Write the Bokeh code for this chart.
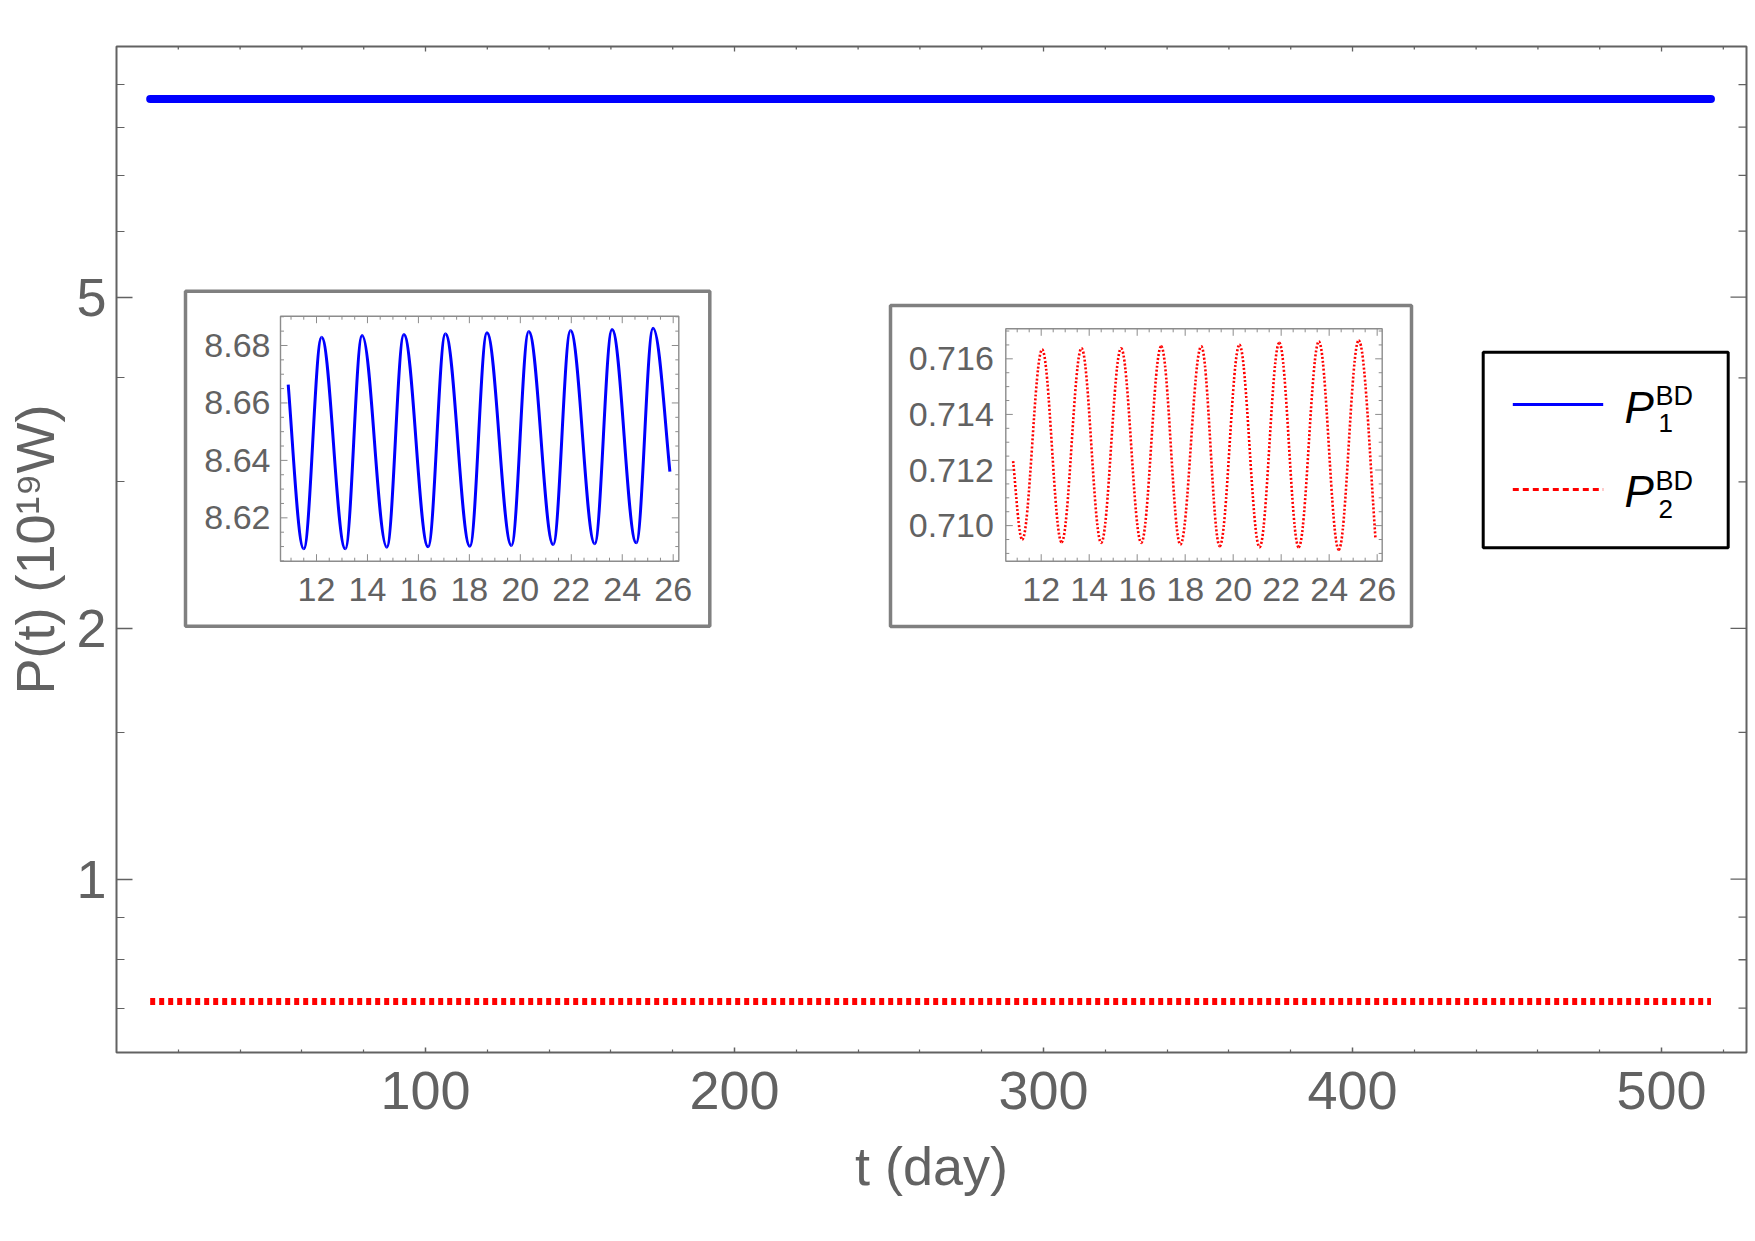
import math
from bokeh.plotting import figure
from bokeh.models import Range1d, LinearScale, FixedTicker, PrintfTickFormatter
from bokeh.core.properties import value
from bokeh.embed import file_html
from bokeh.resources import INLINE

# ---------------- data ----------------
# main panel: the two powers look like flat bands (fast ripple is unresolved)
t_main = [10.9, 516.0]
p1_main = [8.647, 8.647]
p2_main = [0.7129, 0.7129]

x_ticks = [100, 200, 300, 400, 500]
x_minor = [20, 40, 60, 80, 120, 140, 160, 180, 220, 240, 260, 280, 320, 340, 360, 380,
           420, 440, 460, 480, 520]
y_ticks = [1, 2, 5]
y_minor = [0.7, 0.8, 0.9, 1.5, 3, 4, 6, 7, 8, 9]

# inset 1 (P1): start, alternating troughs / peaks, end
t1_ext = [10.89, 11.50, 12.20, 13.13, 13.79, 14.76, 15.43, 16.38, 17.06, 18.02,
          18.69, 19.65, 20.33, 21.29, 21.97, 22.92, 23.60, 24.55, 25.21, 25.87]
p1_ext = [8.6664, 8.6092, 8.6829, 8.6092, 8.6835, 8.6098, 8.6838, 8.6099, 8.6841, 8.6101,
          8.6844, 8.6104, 8.6849, 8.6107, 8.6852, 8.6110, 8.6856, 8.6113, 8.6860, 8.6361]
in1_xticks = [12, 14, 16, 18, 20, 22, 24, 26]
in1_yticks = [8.62, 8.64, 8.66, 8.68]
in1_ylabels = ["8.62", "8.64", "8.66", "8.68"]

# inset 2 (P2)
t2_ext = [10.83, 11.21, 12.04, 12.85, 13.68, 14.50, 15.33, 16.17, 17.00, 17.80,
          18.67, 19.44, 20.26, 21.10, 21.92, 22.73, 23.57, 24.40, 25.23, 25.93]
p2_ext = [0.71232, 0.70950, 0.71633, 0.70940, 0.71638, 0.70938, 0.71638, 0.70938, 0.71645, 0.70932,
          0.71645, 0.70926, 0.71650, 0.70922, 0.71658, 0.70922, 0.71662, 0.70913, 0.71666, 0.70953]
in2_xticks = [12, 14, 16, 18, 20, 22, 24, 26]
in2_yticks = [0.710, 0.712, 0.714, 0.716]
in2_ylabels = ["0.710", "0.712", "0.714", "0.716"]

# ---------------- layout / style ----------------
FONT = "Liberation Sans"
GREY = "#626262"
W, H = 1755, 1241
FL, FR, FT, FB = 116, 1746, 46, 1052
XMIN, XMAX = 0, 527.5
YMIN, YMAX = 0.619, 10.0

p = figure(width=W, height=H, x_range=Range1d(XMIN, XMAX), y_range=Range1d(YMIN, YMAX),
           y_axis_type="log", output_backend="svg", toolbar_location=None,
           min_border_left=FL, min_border_right=W - FR, min_border_top=FT, min_border_bottom=H - FB,
           background_fill_color="white", border_fill_color="white",
           outline_line_color=GREY, outline_line_width=2)
p.grid.visible = False

bx = p.below[0]
ly = p.left[0]
bx.ticker = FixedTicker(ticks=x_ticks, minor_ticks=x_minor)
ly.ticker = FixedTicker(ticks=y_ticks, minor_ticks=y_minor)
ly.formatter = PrintfTickFormatter(format="%d")
bx.axis_label = "t (day)"
ly.axis_label = "P(t) (10\u00b9\u2079W)"

XT_MAJ, XT_MIN = 5, 3
YT_MAJ, YT_MIN = 16, 8


def style_axis(ax, tin, tmin):
    ax.axis_line_color = None
    ax.major_tick_line_color = GREY
    ax.minor_tick_line_color = GREY
    ax.major_tick_line_width = 1.5
    ax.minor_tick_line_width = 1.2
    ax.major_tick_in = tin
    ax.major_tick_out = 0
    ax.minor_tick_in = tmin
    ax.minor_tick_out = 0
    ax.major_label_text_font = FONT
    ax.major_label_text_font_size = "54px"
    ax.major_label_text_color = GREY
    ax.axis_label_text_font = FONT
    ax.axis_label_text_font_size = "54px"
    ax.axis_label_text_font_style = "normal"
    ax.axis_label_text_color = GREY


style_axis(bx, XT_MAJ, XT_MIN)
style_axis(ly, YT_MAJ, YT_MIN)
bx.major_label_standoff = 19
bx.axis_label_standoff = 24
ly.major_label_standoff = 10
ly.axis_label_standoff = 8

# mirrored (unlabelled) ticks on the top and right edges of the frame
px_per_decade = (FB - FT) / math.log10(YMAX / YMIN)
x_per_px = (XMAX - XMIN) / (FR - FL)
tx0, ty0, tx1, ty1 = [], [], [], []
for xs, ln in ((x_ticks, XT_MAJ), (x_minor, XT_MIN)):
    for v in xs:
        tx0.append(v); tx1.append(v); ty0.append(YMAX); ty1.append(YMAX / 10 ** (ln / px_per_decade))
for ys, ln in ((y_ticks, YT_MAJ), (y_minor, YT_MIN)):
    for v in ys:
        ty0.append(v); ty1.append(v); tx0.append(XMAX); tx1.append(XMAX - ln * x_per_px)
p.segment(x0=tx0, y0=ty0, x1=tx1, y1=ty1, line_color=GREY, line_width=1.3)


def ext(d0, d1, q0, q1, F0, F1):
    k = (d1 - d0) / (q1 - q0)
    return Range1d(d0 + (F0 - q0) * k, d0 + (F1 - q0) * k)


# inset geometry (pixels) and data windows
I1 = dict(L=280, R=678.3, T=315.7, B=560.7, x0=10.587, x1=26.22, y0=8.6049, y1=8.6902,
          oL=185, oR=709.3, oT=290.7, oB=625.7)
I2 = dict(L=1005.3, R=1381.7, T=328.3, B=560.7, x0=10.525, x1=26.21, y0=0.70872, y1=0.71708,
          oL=890, oR=1411, oT=305, oB=626)

p.extra_x_ranges = {
    "px": Range1d(FL, FR),
    "i1x": ext(I1["x0"], I1["x1"], I1["L"], I1["R"], FL, FR),
    "i2x": ext(I2["x0"], I2["x1"], I2["L"], I2["R"], FL, FR),
}
p.extra_y_ranges = {
    "py": Range1d(FB, FT),
    "i1y": ext(I1["y0"], I1["y1"], I1["B"], I1["T"], FB, FT),
    "i2y": ext(I2["y0"], I2["y1"], I2["B"], I2["T"], FB, FT),
}
p.extra_x_scales = {"px": LinearScale(), "i1x": LinearScale(), "i2x": LinearScale()}
p.extra_y_scales = {"py": LinearScale(), "i1y": LinearScale(), "i2y": LinearScale()}

# ---------------- main curves ----------------
p.line(t_main, p1_main, line_color="#0000ff", line_width=8, line_cap="round")
p.line(t_main, p2_main, line_color="#ff0000", line_width=7, line_dash="5 4")


# ---------------- insets ----------------
def draw_inset(I, xr, yr, ts, vs, color, dash, lw, xticks, yticks, ylabels,
               xminor_step, yminor_step, ylab_off):
    # outer box
    p.quad(left=[I["oL"]], right=[I["oR"]], top=[I["oT"]], bottom=[I["oB"]],
           x_range_name="px", y_range_name="py", fill_color="white",
           line_color="#808080", line_width=3.5)
    # inner frame
    p.quad(left=[I["x0"]], right=[I["x1"]], top=[I["y1"]], bottom=[I["y0"]],
           x_range_name=xr, y_range_name=yr, fill_color="white",
           line_color="#8c8c8c", line_width=1.4)
    # ticks
    kx = (I["x1"] - I["x0"]) / (I["R"] - I["L"])
    ky = (I["y1"] - I["y0"]) / (I["B"] - I["T"])
    sx0, sy0, sx1, sy1 = [], [], [], []
    n = int(round((I["x1"] - I["x0"]) / xminor_step)) + 2
    start = (int(I["x0"] / xminor_step) + 1) * xminor_step
    for i in range(n):
        v = round(start + i * xminor_step, 6)
        if v >= I["x1"]:
            break
        major = abs(v - round(v / 2) * 2) < 1e-9
        ln = 7 if major else 3.5
        for yb, sgn in ((I["y0"], 1), (I["y1"], -1)):
            sx0.append(v); sx1.append(v); sy0.append(yb); sy1.append(yb + sgn * ln * ky)
    n = int(round((I["y1"] - I["y0"]) / yminor_step)) + 2
    start = (int(I["y0"] / yminor_step) + 1) * yminor_step
    for i in range(n):
        v = round(start + i * yminor_step, 7)
        if v >= I["y1"]:
            break
        major = any(abs(v - t) < 1e-7 for t in yticks)
        ln = 7 if major else 3.5
        for xb, sgn in ((I["x0"], 1), (I["x1"], -1)):
            sy0.append(v); sy1.append(v); sx0.append(xb); sx1.append(xb + sgn * ln * kx)
    p.segment(x0=sx0, y0=sy0, x1=sx1, y1=sy1, x_range_name=xr, y_range_name=yr,
              line_color="#8c8c8c", line_width=1)
    # tick labels
    p.text(x=xticks, y=[I["y0"]] * len(xticks), text=[str(v) for v in xticks],
           x_range_name=xr, y_range_name=yr, y_offset=28,
           text_font=value(FONT), text_font_size="34px", text_color=GREY,
           text_align="center", text_baseline="middle")
    p.text(x=[I["x0"]] * len(yticks), y=yticks, text=ylabels,
           x_range_name=xr, y_range_name=yr, x_offset=-ylab_off,
           text_font=value(FONT), text_font_size="34px", text_color=GREY,
           text_align="right", text_baseline="middle")
    # smooth curve through the read extrema (cubic Bezier, flat at extrema)
    k = 0.364
    X0, Y0, X1, Y1, CX0, CY0, CX1, CY1 = [], [], [], [], [], [], [], []
    last = len(ts) - 2
    for i in range(len(ts) - 1):
        a, b = ts[i], ts[i + 1]
        va, vb = vs[i], vs[i + 1]
        dt = b - a
        if i == 0:
            c0 = (a + dt / 3, va + (vb - va) * 0.4)
        else:
            c0 = (a + k * dt, va)
        if i == last:
            c1 = (b - dt / 3, vb - (vb - va) * 0.4)
        else:
            c1 = (b - k * dt, vb)
        X0.append(a); Y0.append(va); X1.append(b); Y1.append(vb)
        CX0.append(c0[0]); CY0.append(c0[1]); CX1.append(c1[0]); CY1.append(c1[1])
    kw = dict(x_range_name=xr, y_range_name=yr, line_color=color, line_width=lw)
    if dash:
        kw["line_dash"] = dash
    p.bezier(x0=X0, y0=Y0, x1=X1, y1=Y1, cx0=CX0, cy0=CY0, cx1=CX1, cy1=CY1, **kw)


draw_inset(I1, "i1x", "i1y", t1_ext, p1_ext, "#0000ff", None, 3,
           in1_xticks, in1_yticks, in1_ylabels, 0.5, 0.005, 10)
draw_inset(I2, "i2x", "i2y", t2_ext, p2_ext, "#ff0000", "2 2", 2.6,
           in2_xticks, in2_yticks, in2_ylabels, 0.5, 0.0005, 12)

# ---------------- legend (drawn by hand for stacked sub/superscripts) ----------------
p.quad(left=[1482.7], right=[1727.7], top=[351.7], bottom=[547.3],
       x_range_name="px", y_range_name="py", fill_color="white",
       line_color="black", line_width=3)
p.line([1512.3, 1602.7], [404, 404], x_range_name="px", y_range_name="py",
       line_color="#0000ff", line_width=2.8)
p.line([1512.3, 1602.7], [489, 489], x_range_name="px", y_range_name="py",
       line_color="#ff0000", line_width=2.8, line_dash="6 4")
p.text(x=[1624, 1624], y=[407, 491], text=["P", "P"], x_range_name="px", y_range_name="py",
       text_font=value(FONT), text_font_size="44px", text_font_style="italic",
       text_color="black", text_baseline="alphabetic", text_align="left")
p.text(x=[1655, 1655], y=[395, 480], text=["BD", "BD"], x_range_name="px", y_range_name="py",
       text_font=value(FONT), text_font_size="27px", text_color="black",
       text_baseline="alphabetic", text_align="left")
p.text(x=[1658, 1658], y=[422, 508], text=["1", "2"], x_range_name="px", y_range_name="py",
       text_font=value(FONT), text_font_size="26px", text_color="black",
       text_baseline="alphabetic", text_align="left")

open("out.html", "w").write(file_html(p, INLINE))
